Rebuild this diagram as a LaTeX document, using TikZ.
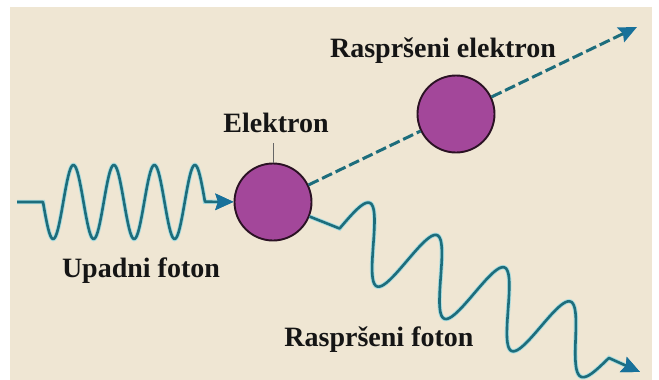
\documentclass[tikz,border=0pt]{standalone}
\usepackage{fontspec}
\setmainfont{Liberation Serif}
\usetikzlibrary{arrows.meta}
\definecolor{paper}{HTML}{EFE6D3}
\definecolor{wave} {HTML}{1D6D7C}
\definecolor{glow} {HTML}{A9DDE0}
\definecolor{tipc} {HTML}{18719A}
\definecolor{plum} {HTML}{A3479A}
\definecolor{rim}  {HTML}{2B1224}
\definecolor{ink}  {HTML}{151515}
\begin{document}
\begin{tikzpicture}[x=1pt, y=-1pt,
  el/.style={circle, draw=rim, line width=1.9pt, fill=plum, minimum size=77pt, inner sep=0pt},
  lbl/.style={font=\fontsize{28}{30}\selectfont\bfseries, text=ink, anchor=base, inner sep=0pt},
  photon/.style={draw=wave, line width=2.6pt, line join=round, preaction={draw=glow, line width=4.4pt}},
  track/.style={draw=wave, line width=3pt, dash pattern=on 11pt off 4pt},
  >={Stealth[length=18pt, width=16pt, inset=2.5pt, color=tipc]}
]
\useasboundingbox (0,0) rectangle (659,380);
\fill[white] (0,0) rectangle (659,380);
\fill[paper] (10,7) rectangle (652,380);
% electrons
\node[el] (e1) at (273,202) {};
\node[el] (e2) at (456,114) {};
\coordinate (inStart) at (17,202);
\coordinate (outKink) at (339.6,228.5);
\coordinate (outTip) at (640,372);
\coordinate (elTip) at (637,27);
\coordinate (tagE) at (273,143);
% photons
\draw[photon, ->] (inStart) -- plot[domain=0:4, samples=161] ({43+40.5*\x},{202+37*sin(360*\x)}) -- (e1);
\draw[photon, ->] (e1) -- (outKink) -- plot[domain=0:4, samples=201]
  ({339.6+67.4*\x+13.5*(1-0.25*max(\x-3,0))*sin(360*\x)},
   {228.5+32.3*\x-33.6*(1-0.25*max(\x-3,0))*sin(360*\x)}) -- (outTip);
% scattered electron track
\draw[track] (e1) -- (e2);
\draw[track, ->] (e2) -- (elTip);
\draw[black!60, line width=1pt] (tagE) -- (e1);
% labels
\node[lbl] (lblIn) at (141,277) {Upadni foton};
\node[lbl] (lblE) at (276,132) {Elektron};
\node[lbl] (lblE2) at (443,57) {Raspršeni elektron};
\node[lbl] (lblOut) at (379,346) {Raspršeni foton};
\end{tikzpicture}
\end{document}
